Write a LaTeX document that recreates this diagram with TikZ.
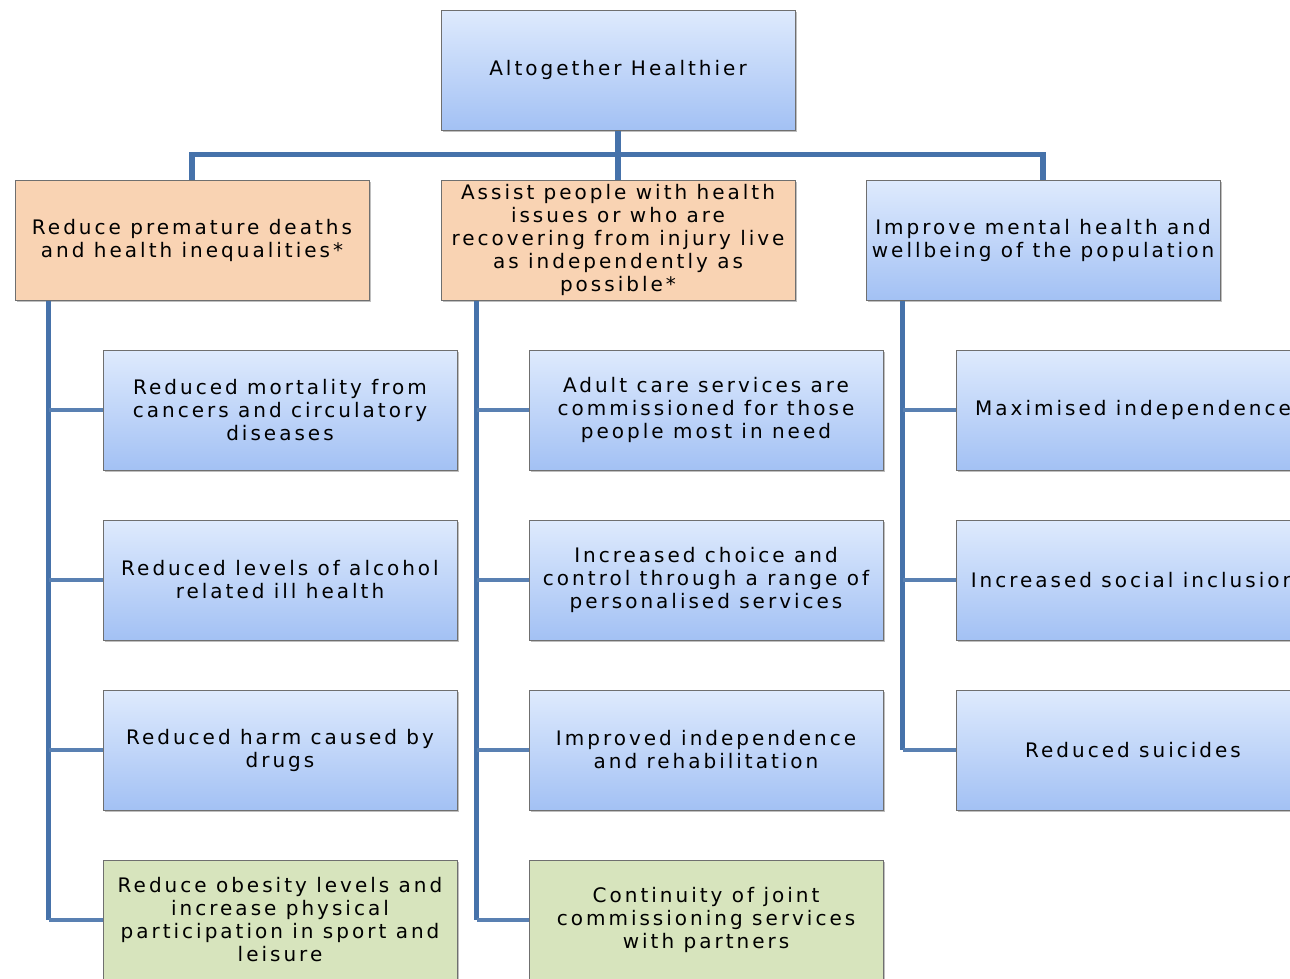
\documentclass[tikz,border=0pt]{standalone}
\usepackage{fontspec}
\setmainfont{DejaVu Sans}[LetterSpace=15]
\usetikzlibrary{positioning,shadows}

\definecolor{boxtop}{HTML}{DEEAFD}
\definecolor{boxbot}{HTML}{A3C1F4}
\definecolor{goalfill}{HTML}{F9D3B3}
\definecolor{aimfill}{HTML}{D7E4BD}
\definecolor{linkblue}{HTML}{4672AA}
\definecolor{edgegray}{HTML}{6F6F6F}

\tikzset{
  box/.style={draw=edgegray, line width=1pt, minimum width=354pt,
    minimum height=120pt, inner sep=2pt, align=center,
    font=\fontsize{20}{23}\selectfont,
    drop shadow={shadow xshift=1.5pt, shadow yshift=-1.5pt, fill=black!50}},
  bluebox/.style={box, top color=boxtop, bottom color=boxbot},
  goalbox/.style={box, fill=goalfill},
  aimbox/.style={box, fill=aimfill},
  link/.style={draw=linkblue, line width=5.5pt},
  stub/.style={draw=linkblue!90, line width=4pt}
}

\begin{document}
\begin{tikzpicture}[x=1pt, y=-1pt]
  \useasboundingbox (0,0) rectangle (1290,978);

  % top level
  \node[bluebox] (root) at (618,70) {Altogether Healthier};

  % priorities
  \node[goalbox] (left) at (192,240) {Reduce premature deaths\\ and health inequalities*};
  \node[goalbox] (mid) at (618,240) {Assist people with health\\ issues or who are\\
    recovering from injury live\\ as independently as\\ possible*};
  \node[bluebox] (right) at (1043,240) {Improve mental health and\\ wellbeing of the population};

  % outcomes
  \node[bluebox] (l1) at (280,410) {Reduced mortality from\\ cancers and circulatory\\ diseases};
  \node[bluebox] (l2) at (280,580) {Reduced levels of alcohol\\ related ill health};
  \node[bluebox] (l3) at (280,750) {Reduced harm caused by\\ drugs};
  \node[aimbox] (l4) at (280,920) {Reduce obesity levels and\\ increase physical\\
    participation in sport and\\ leisure};

  \node[bluebox] (m1) at (706,410) {Adult care services are\\ commissioned for those\\ people most in need};
  \node[bluebox] (m2) at (706,580) {Increased choice and\\ control through a range of\\ personalised services};
  \node[bluebox] (m3) at (706,750) {Improved independence\\ and rehabilitation};
  \node[aimbox] (m4) at (706,920) {Continuity of joint\\ commissioning services\\ with partners};

  \node[bluebox] (r1) at (1133,410) {Maximised independence};
  \node[bluebox] (r2) at (1133,580) {Increased social inclusion};
  \node[bluebox] (r3) at (1133,750) {Reduced suicides};

  % connectors
  \draw[link] (root.south) -- (mid.north);
  \draw[link] (left.north) -- ++(0,-25) -| (right.north);

  \coordinate (ltrunk) at ([xshift=34pt]left.south west);
  \coordinate (mtrunk) at ([xshift=36pt]mid.south west);
  \coordinate (rtrunk) at ([xshift=37pt]right.south west);
  \draw[link] (ltrunk) -- (ltrunk |- l4.west);
  \draw[link] (mtrunk) -- (mtrunk |- m4.west);
  \draw[link] (rtrunk) -- (rtrunk |- r3.west);
  \foreach \c in {l1,l2,l3,l4}
    \draw[stub] (ltrunk |- \c.west) -- (\c.west);
  \foreach \c in {m1,m2,m3,m4}
    \draw[stub] (mtrunk |- \c.west) -- (\c.west);
  \foreach \c in {r1,r2,r3}
    \draw[stub] (rtrunk |- \c.west) -- (\c.west);
\end{tikzpicture}
\end{document}
